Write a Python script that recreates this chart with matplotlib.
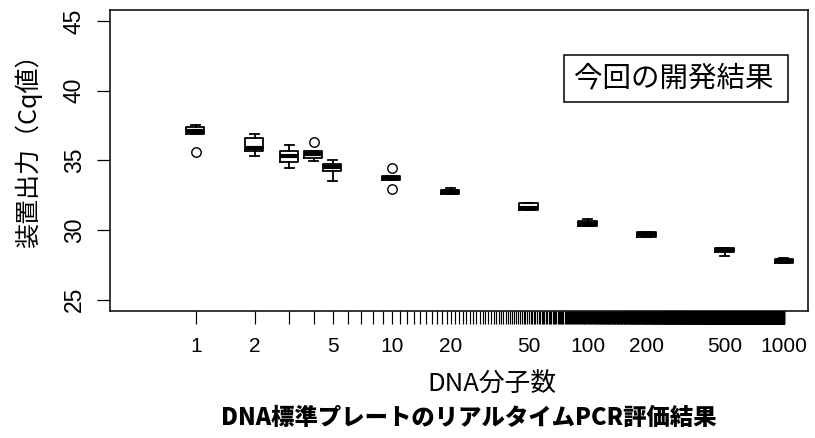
import numpy as np
import matplotlib
matplotlib.use("Agg")
import matplotlib.pyplot as plt
from matplotlib.patches import Rectangle

plt.rcParams['font.family'] = ['Noto Sans CJK JP', 'DejaVu Sans']

# DNA分子数ごとの Cq 値（箱ひげ図の統計量、図から読み取り）
copies = [1, 2, 3, 4, 5, 10, 20, 50, 100, 200, 500, 1000]
q1 = [36.90, 35.68, 34.90, 35.20, 34.25, 33.60, 32.55, 31.40, 30.30, 29.52, 28.45, 27.65]
med = [37.12, 35.92, 35.30, 35.45, 34.50, 33.72, 32.70, 31.55, 30.45, 29.68, 28.56, 27.78]
q3 = [37.38, 36.60, 35.70, 35.65, 34.75, 33.86, 32.86, 31.92, 30.64, 29.85, 28.68, 27.92]
whis_lo = [36.90, 35.28, 34.45, 34.95, 33.50, 33.60, 32.55, 31.40, 30.30, 29.48, 28.10, 27.62]
whis_hi = [37.55, 36.90, 36.10, 35.65, 35.00, 33.86, 33.05, 31.95, 30.80, 29.87, 28.70, 28.00]
outliers = [[35.62], [], [], [36.30], [], [34.45, 32.95], [], [], [], [], [], []]

xlabels = [1, 2, 5, 10, 20, 50, 100, 200, 500, 1000]
yticks = [25, 30, 35, 40, 45]

stats = []
for i in range(len(copies)):
    stats.append({'med': med[i], 'q1': q1[i], 'q3': q3[i],
                  'whislo': whis_lo[i], 'whishi': whis_hi[i],
                  'fliers': outliers[i]})

pos = np.array(copies, dtype=float)
w = pos * (10 ** 0.046 - 10 ** -0.046)

fig = plt.figure(figsize=(8.15, 4.38), dpi=100)
ax = fig.add_axes([0.135, 0.2906, 0.8564, 0.6865])
ax.set_xscale('log')

lw = 1.3
ax.bxp(stats, positions=pos, widths=w, capwidths=w / 2, manage_ticks=False,
       boxprops=dict(color='black', linewidth=lw),
       whiskerprops=dict(color='black', linewidth=lw),
       capprops=dict(color='black', linewidth=lw),
       medianprops=dict(color='black', linewidth=3.0, solid_capstyle='butt'),
       flierprops=dict(marker='o', markerfacecolor='none', markeredgecolor='black',
                       markersize=6.8, markeredgewidth=1.0))

ax.set_xlim(10 ** -0.437, 10 ** 3.122)
ax.set_ylim(24.2, 45.8)

ax.set_xticks(xlabels)
ax.set_xticklabels([str(v) for v in xlabels], fontfamily='Liberation Sans', fontsize=15)
ax.set_xticks(np.arange(1, 1001), minor=True)
ax.xaxis.set_minor_formatter(plt.NullFormatter())
ax.tick_params(axis='x', which='both', length=9, width=0.85, pad=10)

ax.set_yticks(yticks)
ax.set_yticklabels([str(v) for v in yticks], fontfamily='Liberation Sans', fontsize=16.5,
                   rotation=90, va='center')
ax.tick_params(axis='y', length=9.5, width=0.9, pad=8)

for s in ax.spines.values():
    s.set_linewidth(1.1)

# 凡例風の枠
ax.add_patch(Rectangle((0.651, 0.693), 0.321, 0.157, transform=ax.transAxes,
                       fill=False, edgecolor='black', linewidth=1.1))
ax.text(0.808, 0.7715, '今回の開発結果', transform=ax.transAxes,
        ha='center', va='center', fontsize=20.5)

fig.text(0.035, 0.669, '装置出力（Cq値）', rotation=90, ha='center', va='center', fontsize=18)
fig.text(0.603, 0.121, 'DNA分子数', ha='center', va='center', fontsize=18.5)
fig.text(0.5755, 0.0457, 'DNA標準プレートのリアルタイムPCR評価結果',
         ha='center', va='center', fontsize=16.8, fontweight='heavy')

fig.savefig('out.png', dpi=100)
